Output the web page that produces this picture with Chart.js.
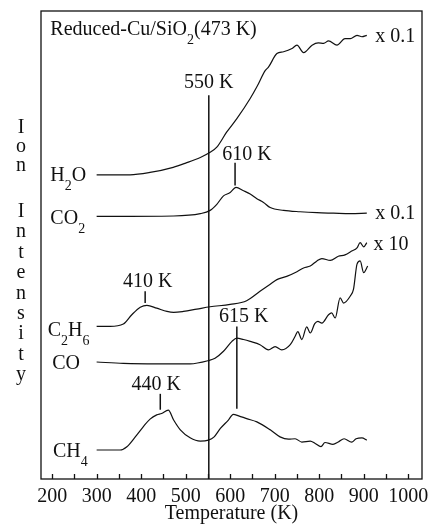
<!DOCTYPE html>
<html>
<head>
<meta charset="utf-8">
<script src="https://cdn.jsdelivr.net/npm/chart.js@4.4.1/dist/chart.umd.min.js"></script>
<style>
  html, body { margin: 0; padding: 0; background: #fff; }
</style>
</head>
<body>
<canvas id="tpd" width="432" height="529"></canvas>
<script>
// TPD traces over reduced Cu/SiO2 — temperature (K) vs ion intensity (a.u., stacked offsets)
const h2oT = [300, 375, 420, 472, 500, 533, 555, 570, 592, 615, 645, 660, 679, 686, 705, 720, 739, 750, 765, 784, 798, 810, 821, 840, 858, 870, 885, 896, 907];
const h2oI = [65.0, 65.0, 65.5, 66.6, 67.5, 68.7, 69.8, 70.9, 74.1, 77.0, 81.3, 83.8, 87.3, 88.0, 90.9, 91.3, 92.0, 92.7, 91.1, 92.7, 93.2, 93.1, 93.6, 92.7, 94.1, 94.1, 94.8, 94.5, 94.8];

const co2T = [300, 473, 533, 555, 570, 585, 600, 613, 630, 645, 660, 675, 690, 720, 757, 795, 832, 870, 907];
const co2I = [56.1, 56.2, 56.7, 57.4, 58.7, 60.5, 61.2, 62.3, 61.6, 60.9, 59.9, 59.1, 58.0, 57.4, 57.1, 56.9, 56.8, 56.7, 56.8];

const c2h6T = [300, 330, 360, 379, 398, 413, 435, 458, 473, 495, 525, 555, 600, 637, 667, 690, 705, 727, 750, 765, 780, 795, 806, 825, 843, 858, 873, 885, 892, 900, 907];
const c2h6I = [32.6, 32.6, 33.1, 35.1, 36.7, 37.1, 36.5, 35.8, 35.6, 35.8, 36.3, 36.8, 37.3, 38.1, 40.1, 41.6, 42.6, 43.3, 44.3, 45.1, 45.5, 46.6, 47.1, 46.7, 47.6, 47.9, 48.7, 49.4, 50.5, 49.6, 50.5];

const coT = [300, 360, 435, 510, 551, 566, 585, 604, 615, 630, 645, 667, 686, 701, 716, 735, 746, 752, 761, 772, 780, 790, 797, 806, 821, 828, 836, 847, 855, 870, 877, 885, 892, 900, 909];
const coI = [25.0, 24.7, 24.6, 24.6, 25.3, 25.8, 27.3, 29.4, 30.1, 29.8, 29.4, 28.7, 27.6, 28.3, 27.6, 28.7, 30.5, 31.5, 29.8, 32.5, 31.2, 33.2, 33.7, 33.3, 35.1, 35.5, 34.4, 38.7, 37.6, 39.1, 40.5, 45.9, 46.6, 44.1, 45.5];

const ch4T = [300, 353, 368, 390, 405, 420, 435, 446, 461, 473, 488, 510, 533, 551, 564, 578, 596, 607, 619, 637, 660, 690, 712, 731, 746, 761, 780, 791, 804, 813, 831, 843, 856, 873, 883, 896, 907];
const ch4I = [6.2, 6.2, 6.9, 9.4, 11.2, 12.8, 13.7, 14.0, 14.7, 12.6, 10.5, 8.8, 8.1, 8.3, 9.0, 10.8, 12.6, 13.8, 13.5, 12.9, 12.2, 10.5, 9.0, 8.5, 8.6, 7.9, 8.1, 7.6, 6.9, 7.8, 7.4, 7.9, 8.6, 7.9, 8.6, 8.8, 8.3];

// peak markers: temperature, bottom and top of the little vertical bar
const markT  = [552, 611, 409, 443, 615];
const markLo = [0, 62.7, 37.6, 14.8, 15.0];
const markHi = [82.0, 67.6, 40.1, 18.2, 32.6];

// temperature axis ticks (every 50 K, labelled every 100 K)
const tickT = [200, 250, 300, 350, 400, 450, 500, 550, 600, 650, 700, 750, 800, 850, 900, 950, 1000];

// in-plot text, "_" puts the next character as subscript
const notes = [
  { text: 'Reduced-Cu/SiO_2(473 K)', t: 196, v: 94.8 },
  { text: '550 K', t: 552, v: 83.5, align: 'center' },
  { text: '610 K', t: 582, v: 68.2 },
  { text: '410 K', t: 415, v: 41.0, align: 'center' },
  { text: '615 K', t: 575, v: 33.5 },
  { text: '440 K', t: 434, v: 19.1, align: 'center' },
  { text: 'x 0.1', t: 926, v: 93.3 },
  { text: 'x 0.1', t: 926, v: 55.5 },
  { text: 'x 10', t: 922, v: 49.0 },
  { text: 'H_2O', t: 196, v: 63.7 },
  { text: 'CO_2', t: 196, v: 54.5 },
  { text: 'C_2H_6', t: 190, v: 30.5 },
  { text: 'CO', t: 200, v: 23.4 },
  { text: 'CH_4', t: 202, v: 4.7 }
];

const FONT = '"Liberation Serif", "Times New Roman", serif';
const INK = '#111';

const pts = (ts, vs) => ts.map((t, i) => ({ x: t, y: vs[i] }));

const curves = [[h2oT, h2oI], [co2T, co2I], [c2h6T, c2h6I], [coT, coI], [ch4T, ch4I]].map(([t, v]) => ({
  data: pts(t, v),
  borderColor: INK, borderWidth: 1.2,
  cubicInterpolationMode: 'monotone', pointRadius: 0
}));

const marks = markT.map((t, i) => ({
  data: [{ x: t, y: markLo[i] }, { x: t, y: markHi[i] }],
  borderColor: INK, borderWidth: 1.5, pointRadius: 0
}));

function drawRich(ctx, text, px, py, align) {
  const parts = [];
  for (let i = 0; i < text.length; i++) {
    if (text[i] === '_') { parts.push([text[i + 1], true]); i++; }
    else parts.push([text[i], false]);
  }
  const fMain = '20px ' + FONT, fSub = '14px ' + FONT;
  let w = 0;
  parts.forEach(p => { ctx.font = p[1] ? fSub : fMain; w += ctx.measureText(p[0]).width; });
  let cx = align === 'center' ? px - w / 2 : px;
  ctx.textAlign = 'left';
  ctx.textBaseline = 'alphabetic';
  parts.forEach(p => {
    ctx.font = p[1] ? fSub : fMain;
    ctx.fillText(p[0], cx, p[1] ? py + 9 : py);
    cx += ctx.measureText(p[0]).width;
  });
}

const decor = {
  id: 'decor',
  afterDatasetsDraw(chart) {
    const { ctx, chartArea: a, scales: { x, y } } = chart;
    ctx.save();
    ctx.strokeStyle = INK;
    ctx.lineWidth = 1.3;
    ctx.strokeRect(a.left, a.top, a.width, a.height);

    // ticks point into the plot
    ctx.beginPath();
    x.ticks.forEach(tk => {
      const px = Math.round(x.getPixelForValue(tk.value)) + 0.5;
      ctx.moveTo(px, a.bottom);
      ctx.lineTo(px, a.bottom - 5);
    });
    ctx.stroke();

    ctx.fillStyle = INK;
    notes.forEach(n => drawRich(ctx, n.text, x.getPixelForValue(n.t), y.getPixelForValue(n.v), n.align));

    // stacked y title
    ctx.font = '20px ' + FONT;
    ctx.textAlign = 'center';
    ctx.textBaseline = 'alphabetic';
    'Ion'.split('').forEach((c, i) => ctx.fillText(c, 21, 133 + i * 19));
    'Intensity'.split('').forEach((c, i) => ctx.fillText(c, 21, 217 + i * 20.4));
    ctx.restore();
  }
};

new Chart(document.getElementById('tpd'), {
  type: 'line',
  data: { datasets: [...curves, ...marks] },
  options: {
    responsive: false,
    animation: false,
    devicePixelRatio: 1,
    layout: { padding: { left: 41, right: 10, top: 11, bottom: 7 } },
    plugins: { legend: { display: false }, tooltip: { enabled: false } },
    scales: {
      x: {
        type: 'linear', min: 175, max: 1031,
        afterBuildTicks: s => { s.ticks = tickT.map(v => ({ value: v })); },
        afterFit: s => { s.paddingLeft = 0; s.paddingRight = 0; },
        grid: { display: false, drawTicks: false },
        border: { display: false },
        ticks: {
          autoSkip: false, maxRotation: 0, padding: 8, color: INK,
          font: { family: FONT, size: 20, lineHeight: 1 },
          callback: v => (v % 100 === 0 ? v : '')
        },
        title: {
          display: true, text: 'Temperature (K)', color: INK, padding: { top: -9, bottom: 0 },
          font: { family: FONT, size: 20, lineHeight: 0.8 }
        }
      },
      y: { display: false, min: 0, max: 100 }
    }
  },
  plugins: [decor]
});
</script>
</body>
</html>
